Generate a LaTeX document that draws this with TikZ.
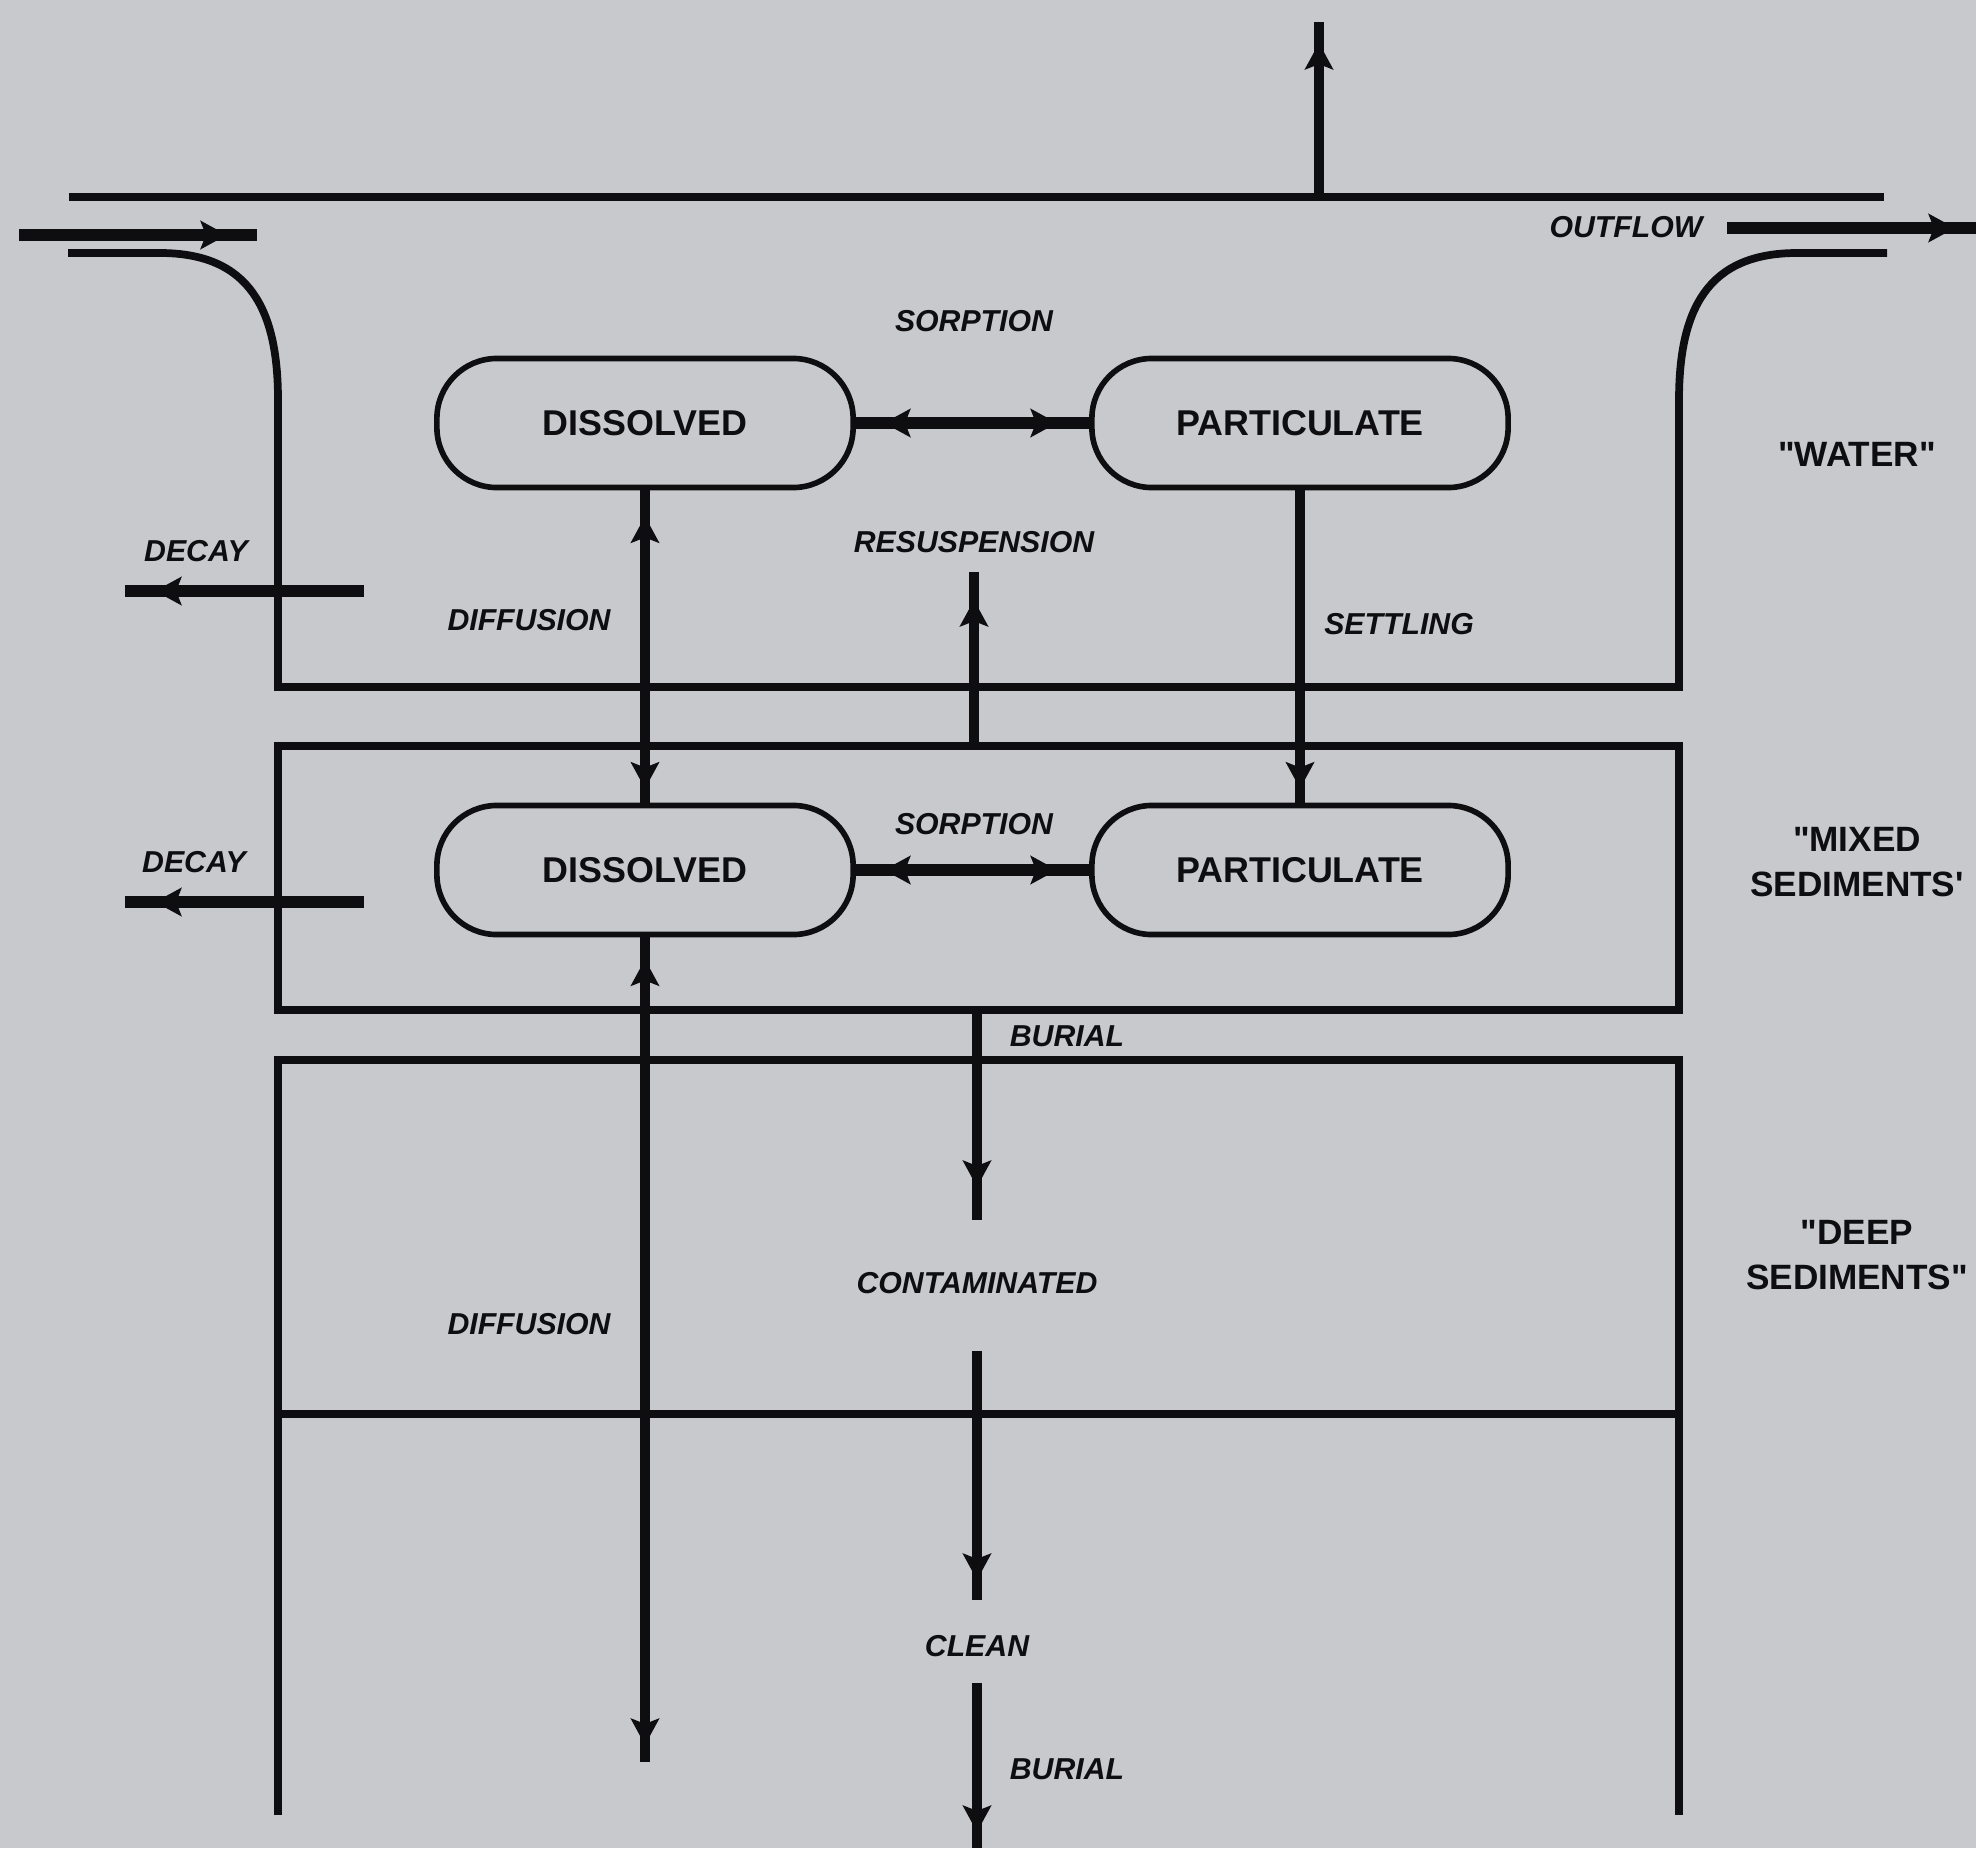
\documentclass[tikz,border=0pt]{standalone}
\usepackage{fontspec}
\setmainfont{Liberation Sans}[Ligatures=TeXOff]
\usetikzlibrary{arrows.meta,decorations.markings}
\definecolor{paper}{RGB}{200,201,204}
\definecolor{ink}{RGB}{14,14,16}
\tikzset{
  headtip/.tip={Stealth[length=7.5pt,width=8pt,inset=1.5pt]},
  wall/.style={line width=2.2pt},
  flow/.style={line width=2.6pt},
  heavy/.style={line width=3.3pt},
  tipat/.style={postaction={decorate,decoration={markings,mark=at position #1 with {\arrow{headtip}}}}},
  tipback/.style={postaction={decorate,decoration={markings,mark=at position #1 with {\arrowreversed{headtip}}}}},
  stadium/.style={draw,line width=1.6pt,rounded corners=0.6cm,minimum width=4.16cm,minimum height=1.29cm,inner sep=0pt,font=\bfseries\fontsize{10.2}{12}\selectfont},
  lbl/.style={font=\bfseries\itshape\fontsize{8.6}{10}\selectfont,inner sep=0pt},
  zone/.style={font=\bfseries\fontsize{10}{13}\selectfont,align=center,inner sep=0pt}
}
\begin{document}
\begin{tikzpicture}[x=0.01cm,y=-0.01cm,color=ink]
\fill[paper] (0,0) rectangle (1976,1848);
\useasboundingbox (0,0) rectangle (1976,1848);

% surface line and volatilization arrow
\draw[line width=2.3pt] (69,197) -- (1884,197);
\coordinate (upS) at (1319,197);
\coordinate (upE) at (1319,22);
\draw[flow,tipat=-0.21cm] (upS) -- (upE);

% inflow / outflow
\coordinate (inS) at (19,235);
\coordinate (inE) at (257,235);
\draw[heavy,tipat=-0.3cm] (inS) -- (inE);
\coordinate (outS) at (1727,228);
\coordinate (outE) at (1990,228);
\draw[heavy,tipat=-0.35cm] (outS) -- (outE);
\node[lbl] (outflow) at (1626,227) {OUTFLOW};

% water compartment walls
\draw[wall] (68,253) -- (160,253) .. controls (250,253) and (278,310) .. (278,400)
  -- (278,687) -- (1679,687) -- (1679,400) .. controls (1679,310) and (1707,253) .. (1797,253) -- (1887,253);

% mixed sediment box
\draw[wall] (278,746) rectangle (1679,1010);

% deep sediments
\draw[wall] (278,1815) -- (278,1060) -- (1679,1060) -- (1679,1815);
\draw[wall] (278,1414) -- (1679,1414);

% compartments
\node[stadium] (d1) at (645,423) {DISSOLVED};
\node[stadium] (p1) at (1300,423) {PARTICULATE};
\node[stadium] (d2) at (645,870) {DISSOLVED};
\node[stadium] (p2) at (1300,870) {PARTICULATE};

% sorption
\draw[heavy,tipback=0.28cm,tipat=-0.32cm] (d1) -- (p1);
\draw[heavy,tipback=0.28cm,tipat=-0.32cm] (d2) -- (p2);
\node[lbl] (sorp1) at (974,321) {SORPTION};
\node[lbl] (sorp2) at (974,824) {SORPTION};

% decay
\coordinate (dec1S) at (364,591);
\coordinate (dec1E) at (125,591);
\draw[heavy,tipat=-0.3cm] (dec1S) -- (dec1E);
\node[lbl] (decay1) at (196,551) {DECAY};
\coordinate (dec2S) at (364,902);
\coordinate (dec2E) at (125,902);
\draw[heavy,tipat=-0.3cm] (dec2S) -- (dec2E);
\node[lbl] (decay2) at (194,862) {DECAY};

% diffusion water <-> mixed
\draw[flow,tipback=0.26cm,tipat=-0.14cm] (d1.south) -- (d2.north);
\node[lbl] (diff1) at (529,620) {DIFFUSION};

% settling
\draw[flow,tipat=-0.14cm] (p1.south) -- (p2.north);
\node[lbl] (settl) at (1399,624) {SETTLING};

% resuspension
\coordinate (resS) at (974,746);
\coordinate (resE) at (974,572);
\draw[flow,tipat=-0.28cm] (resS) -- (resE);
\node[lbl] (resus) at (974,542) {RESUSPENSION};

% diffusion mixed <-> deep
\coordinate (dif2E) at (645,1762);
\draw[flow,tipback=0.22cm,tipat=-0.17cm] (d2.south) -- (dif2E);
\node[lbl] (diff2) at (529,1324) {DIFFUSION};

% burial chain
\coordinate (b1S) at (977,1010);
\coordinate (b1E) at (977,1220);
\draw[flow,tipat=-0.33cm] (b1S) -- (b1E);
\node[lbl] (burial1) at (1067,1036) {BURIAL};
\node[lbl] (contam) at (977,1283) {CONTAMINATED};
\coordinate (b2S) at (977,1351);
\coordinate (b2E) at (977,1600);
\draw[flow,tipat=-0.2cm] (b2S) -- (b2E);
\node[lbl] (clean) at (977,1646) {CLEAN};
\coordinate (b3S) at (977,1683);
\coordinate (b3E) at (977,1848);
\draw[flow,tipat=-0.16cm] (b3S) -- (b3E);
\node[lbl] (burial2) at (1067,1769) {BURIAL};

% zone labels
\node[zone] (water) at (1857,454) {"WATER"};
\node[zone] (mixed) at (1857,862) {"MIXED\\SEDIMENTS'};
\node[zone] (deep) at (1857,1255) {"DEEP\\SEDIMENTS"};
\end{tikzpicture}
\end{document}
